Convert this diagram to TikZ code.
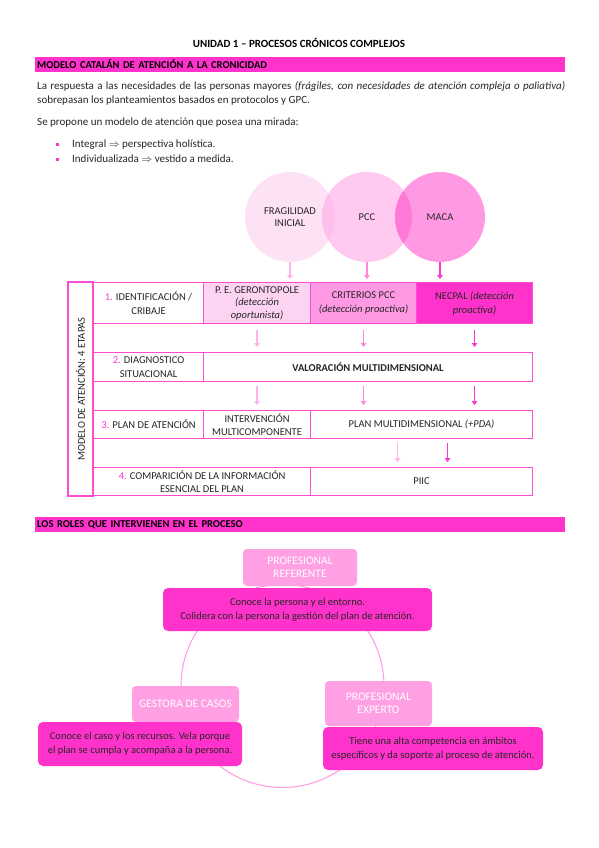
\documentclass[tikz,border=0pt]{standalone}
\usepackage{fontspec}
\setmainfont{Carlito}
\usetikzlibrary{arrows.meta}
\usetikzlibrary{positioning}
\definecolor{rosa}{HTML}{FF33CC}
\definecolor{rosaborde}{HTML}{FF4DD2}
\definecolor{rosaclaro}{HTML}{FDE2F5}
\definecolor{rosapcc}{HTML}{FFC9F0}
\definecolor{rosamaca}{HTML}{FF99E3}
\definecolor{rosacelda}{HTML}{FDD3F2}
\definecolor{rosatitulo}{HTML}{FF9FE4}
\definecolor{cruce1}{HTML}{FDBFEB}
\definecolor{cruce2}{HTML}{FF79D6}
\definecolor{flechaclara}{HTML}{FFB3EB}
\definecolor{flechamedia}{HTML}{FF85DE}
\definecolor{texto}{HTML}{262626}
\newcommand{\paso}[1]{\textcolor{rosa}{#1.}}

\begin{document}
\begin{tikzpicture}[x=1pt,y=-1pt,
  cuerpo/.style={anchor=base west, inner sep=0pt, text=texto, font=\fontsize{11}{13}\selectfont},
  barra/.style={fill=rosa, anchor=north west, text width=526pt, inner xsep=2pt, inner ysep=0pt,
    minimum height=14.5pt, font=\bfseries\fontsize{10.5}{11}\selectfont, text=black},
  circulo/.style={circle, minimum size=90pt, inner sep=0pt, align=center, text=texto,
    font=\fontsize{10.5}{12.5}\selectfont},
  celda/.style={draw=rosaborde, line width=1.1pt, anchor=north west, align=center, inner sep=1pt,
    text=texto, font=\fontsize{10.5}{12.5}\selectfont},
  flecha/.style={-{Triangle[length=4pt,width=5.5pt]}, line width=1.4pt, shorten <=6pt, shorten >=5pt},
  titulorol/.style={fill=rosatitulo, rounded corners=4pt, align=center, text=white,
    font=\fontsize{11.5}{13.5}\selectfont},
  descrol/.style={fill=rosa, rounded corners=5pt, align=center, text=texto,
    font=\fontsize{10.5}{14}\selectfont}]
  \useasboundingbox[fill=white] (0,0) rectangle (599,848);

  % cabecera
  \node[anchor=base, inner sep=0pt, font=\bfseries\fontsize{11}{13}\selectfont] (titulo) at (299,47.5)
    {UNIDAD 1 – PROCESOS CRÓNICOS COMPLEJOS};
  \node[barra] (barra1) at (35,57) {MODELO CATALÁN DE ATENCIÓN A LA CRONICIDAD};
  \node[cuerpo] (par1) at (37,89.5) {\makebox[528pt][s]{La respuesta a las necesidades de las personas mayores
    \textit{(frágiles, con necesidades de atención compleja o paliativa)}}};
  \node[cuerpo] (par2) at (37,103.5) {sobrepasan los planteamientos basados en protocolos y GPC.};
  \node[cuerpo] (par3) at (37,125.5) {Se propone un modelo de atención que posea una mirada:};
  \node[fill=rosa, minimum size=3pt, inner sep=0pt] (vi1) at (57,144) {};
  \node[fill=rosa, minimum size=3pt, inner sep=0pt] (vi2) at (57,159) {};
  \node[cuerpo] (item1) at (72,147.5) {Integral $\Rightarrow$ perspectiva holística.};
  \node[cuerpo] (item2) at (72,162.5) {Individualizada $\Rightarrow$ vestido a medida.};

  % circulos
  \node[circulo, fill=rosaclaro] (fra) at (290,217) {};
  \node[circulo, fill=rosapcc] (pcc) at (367,217) {};
  \node[circulo, fill=rosamaca] (maca) at (440,217) {};
  \begin{scope}
    \clip (fra.center) circle (45pt);
    \fill[cruce1] (pcc.center) circle (45pt);
  \end{scope}
  \begin{scope}
    \clip (pcc.center) circle (45pt);
    \fill[cruce2] (maca.center) circle (45pt);
  \end{scope}
  \node[circulo] at (fra.center) {FRAGILIDAD\\INICIAL};
  \node[circulo] at (pcc.center) {PCC};
  \node[circulo] at (maca.center) {MACA};

  % tabla de etapas
  \node[celda, anchor=center, rotate=90, minimum width=214pt, minimum height=25pt] (etapas) at (80.5,389)
    {MODELO DE ATENCIÓN: 4 ETAPAS};
  \node[celda, minimum width=110pt, minimum height=41pt, font=\fontsize{10.5}{14}\selectfont] (p1) at (93,282)
    {\paso{1} IDENTIFICACIÓN /\\CRIBAJE};
  \node[celda, fill=rosacelda, minimum width=107pt, minimum height=41pt] (ge) at (203,282)
    {P. E. GERONTOPOLE\\\textit{(detección}\\\textit{oportunista)}};
  \node[celda, fill=rosamaca, minimum width=106pt, minimum height=41pt, font=\fontsize{10.5}{14}\selectfont] (cr) at (310,282)
    {CRITERIOS PCC\\\textit{(detección proactiva)}};
  \node[celda, fill=rosa, minimum width=116pt, minimum height=41pt, font=\fontsize{10.5}{14}\selectfont] (ne) at (416,282)
    {NECPAL \textit{(detección}\\\textit{proactiva)}};
  \node[celda, minimum width=110pt, minimum height=29pt, font=\fontsize{10.5}{14}\selectfont] (p2) at (93,352)
    {\paso{2} DIAGNOSTICO\\SITUACIONAL};
  \node[celda, minimum width=329pt, minimum height=29pt, font=\bfseries\fontsize{10.5}{12}\selectfont] (val) at (203,352)
    {VALORACIÓN MULTIDIMENSIONAL};
  \node[celda, minimum width=110pt, minimum height=28pt] (p3) at (93,410) {\paso{3} PLAN DE ATENCIÓN};
  \node[celda, minimum width=107pt, minimum height=28pt] (int) at (203,410) {INTERVENCIÓN\\MULTICOMPONENTE};
  \node[celda, minimum width=222pt, minimum height=28pt] (plan) at (310,410) {PLAN MULTIDIMENSIONAL \textit{(+PDA)}};
  \node[celda, minimum width=217pt, minimum height=28pt] (p4) at (93,467)
    {\paso{4} COMPARICIÓN DE LA INFORMACIÓN\\ESENCIAL DEL PLAN};
  \node[celda, minimum width=222pt, minimum height=28pt] (piic) at (310,467) {PIIC};

  % flechas
  \draw[flecha, flechaclara, shorten <=0pt, shorten >=3pt] (fra.south) -- (fra.south |- ge.north);
  \draw[flecha, flechamedia, shorten <=0pt, shorten >=3pt] (pcc.south) -- (pcc.south |- cr.north);
  \draw[flecha, rosa, shorten <=0pt, shorten >=3pt] (maca.south) -- (maca.south |- ne.north);
  \draw[flecha, flechaclara] (ge.south) -- (ge.south |- val.north);
  \draw[flecha, flechamedia] (cr.south) -- (cr.south |- val.north);
  \draw[flecha, rosa] (ne.south) -- (ne.south |- val.north);
  \draw[flecha, flechaclara, shorten <=4pt] (ge.south |- val.south) -- (ge.south |- int.north);
  \draw[flecha, flechamedia, shorten <=4pt] (cr.south |- val.south) -- (cr.south |- plan.north);
  \draw[flecha, rosa, shorten <=4pt] (ne.south |- val.south) -- (ne.south |- plan.north);
  \draw[flecha, flechaclara, shorten <=4pt] ([xshift=-24pt]plan.south) -- ([xshift=-24pt]piic.north);
  \draw[flecha, rosa, shorten <=4pt] ([xshift=26pt]plan.south) -- ([xshift=26pt]piic.north);

  % roles
  \node[barra] (barra2) at (35,517) {LOS ROLES QUE INTERVIENEN EN EL PROCESO};
  \coordinate (ciclo) at (282.5,686);
  \draw[rosamaca, line width=1pt] (ciclo) circle (101.5pt);
  \node[titulorol, minimum width=114pt, minimum height=37pt] (ref) at (300,567.5) {PROFESIONAL\\REFERENTE};
  \node[titulorol, minimum width=107pt, minimum height=36pt] (ges) at (185.5,704) {GESTORA DE CASOS};
  \node[titulorol, minimum width=107pt, minimum height=45pt] (exp) at (378.5,703.5) {PROFESIONAL\\EXPERTO};
  \node[descrol, minimum width=269pt, minimum height=43pt] (refd) at (297.5,609.5)
    {Conoce la persona y el entorno.\\Colidera con la persona la gestión del plan de atención.};
  \node[descrol, minimum width=204pt, minimum height=44pt] (gesd) at (140,744)
    {Conoce el caso y los recursos. Vela porque\\el plan se cumpla y acompaña a la persona.};
  \node[descrol, minimum width=220pt, minimum height=43pt] (expd) at (433,748.5)
    {Tiene una alta competencia en ámbitos\\específicos y da soporte al proceso de atención.};
\end{tikzpicture}
\end{document}
